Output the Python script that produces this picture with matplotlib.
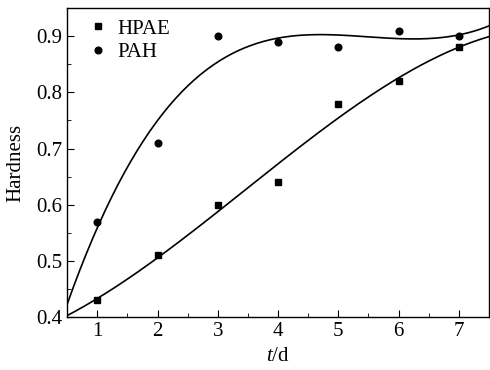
import numpy as np
import matplotlib
matplotlib.use('Agg')
import matplotlib.pyplot as plt
from matplotlib.ticker import MultipleLocator

plt.rcParams['font.family'] = 'Liberation Serif'
plt.rcParams['mathtext.fontset'] = 'custom'
plt.rcParams['mathtext.it'] = 'Liberation Serif:italic'
plt.rcParams['mathtext.rm'] = 'Liberation Serif'

days = [1, 2, 3, 4, 5, 6, 7]
hpae = [0.43, 0.51, 0.60, 0.64, 0.78, 0.82, 0.88]
pah = [0.57, 0.71, 0.90, 0.89, 0.88, 0.91, 0.90]

fig = plt.figure(figsize=(4.9, 3.7), dpi=100)
ax = fig.add_axes([0.137, 0.143, 0.861, 0.835])

# cubic fits
xs = np.linspace(0.5, 7.5, 200)
fit_hpae = np.polyval(np.polyfit(days, hpae, 3), xs)
fit_pah = np.polyval(np.polyfit(days, pah, 3), xs)
ax.plot(xs, fit_hpae, color='black', lw=1.2)
ax.plot(xs, fit_pah, color='black', lw=1.2)

ax.plot(days, hpae, 's', color='black', ms=5, label='HPAE')
ax.plot(days, pah, 'o', color='black', ms=4.8, label='PAH')

ax.set_xlim(0.5, 7.5)
ax.set_ylim(0.4, 0.95)
ax.xaxis.set_major_locator(MultipleLocator(1))
ax.xaxis.set_minor_locator(MultipleLocator(0.5))
ax.yaxis.set_major_locator(MultipleLocator(0.1))
ax.yaxis.set_minor_locator(MultipleLocator(0.05))
ax.yaxis.set_major_formatter(matplotlib.ticker.FormatStrFormatter('%.1f'))
ax.tick_params(which='both', direction='in', labelsize=15)
ax.tick_params(which='major', length=5)
ax.tick_params(which='minor', length=3)
for s in ax.spines.values():
    s.set_linewidth(1.0)

ax.set_xlabel('$t$/d', fontsize=15, labelpad=4)
ax.set_ylabel('Hardness', fontsize=15, labelpad=8)

ax.legend(loc='upper left', bbox_to_anchor=(0.015, 1.005), frameon=False, fontsize=15,
          handletextpad=0.3, borderaxespad=0.2, labelspacing=0.2, handlelength=1.2)

fig.savefig('out.png', dpi=100)
